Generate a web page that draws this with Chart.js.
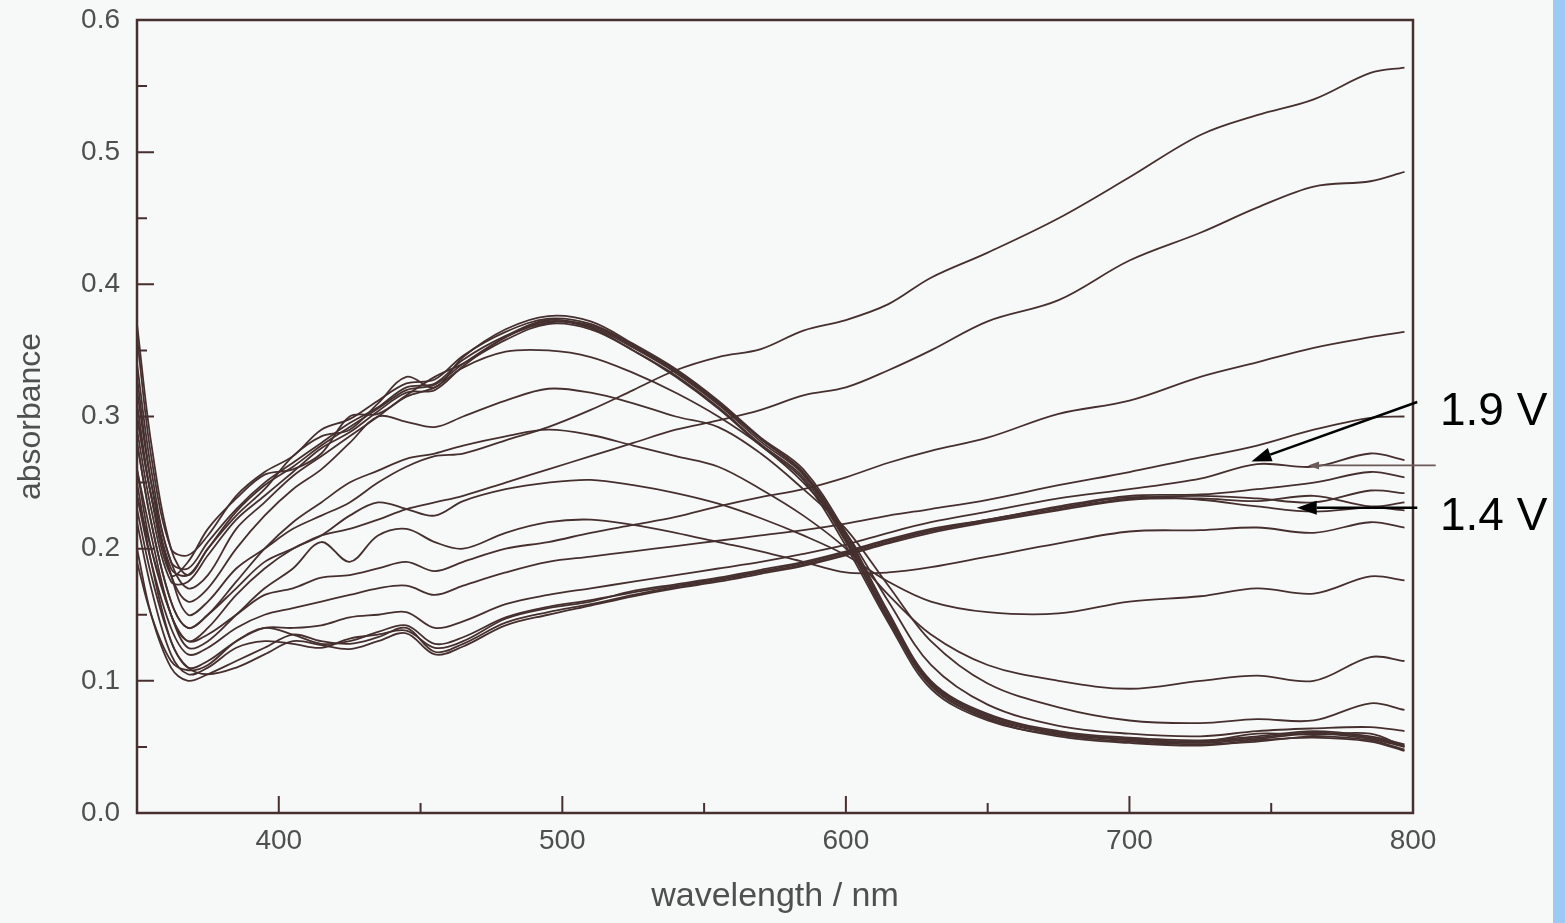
<!DOCTYPE html>
<html>
<head>
<meta charset="utf-8">
<script src="https://cdn.jsdelivr.net/npm/chart.js@4.4.1/dist/chart.umd.min.js"></script>
<style>
  html, body { margin: 0; padding: 0; background: #f7f9f8; overflow: hidden; }
  #wrap  { position: absolute; left: 0; top: 0; width: 1553px; height: 923px; }
  #strip { position: absolute; left: 1553px; top: 0; width: 12px; height: 923px; background: #9dcaf5; }
</style>
</head>
<body>
<div id="wrap"><canvas id="chart" width="1553" height="923"></canvas></div>
<div id="strip"></div>
<script>
// ------------------------------------------------------------
// absorbance spectra vs wavelength
// ------------------------------------------------------------

const WAVELENGTH = [350, 355, 362, 368, 375, 385, 395, 405, 415, 425, 435, 445, 455, 465, 480, 495, 510,
                    525, 540, 555, 570, 585, 600, 615, 630, 650, 675, 700, 725, 745, 765, 785, 797];

// peak bundle (max ~500 nm)
const P1 = [0.34,0.26,0.19,0.185,0.205,0.23,0.25,0.265,0.28,0.295,0.307,0.322,0.325,0.343,0.361,0.373,0.368,0.352,0.333,0.309,0.281,0.256,0.207,0.148,0.097,0.072,0.06,0.055,0.053,0.056,0.06,0.056,0.05];
const P2 = [0.37,0.28,0.2,0.18,0.2,0.225,0.245,0.27,0.285,0.29,0.31,0.33,0.322,0.345,0.366,0.376,0.372,0.355,0.336,0.312,0.284,0.26,0.212,0.152,0.1,0.075,0.062,0.057,0.055,0.058,0.062,0.058,0.052];
const P3 = [0.31,0.24,0.18,0.19,0.215,0.238,0.256,0.26,0.272,0.3,0.302,0.316,0.33,0.34,0.358,0.37,0.366,0.35,0.33,0.306,0.278,0.252,0.202,0.144,0.094,0.07,0.059,0.054,0.052,0.054,0.058,0.055,0.048];
const P4 = [0.29,0.23,0.175,0.175,0.195,0.222,0.24,0.258,0.276,0.288,0.304,0.318,0.32,0.338,0.36,0.371,0.369,0.353,0.334,0.31,0.283,0.258,0.21,0.15,0.099,0.074,0.061,0.056,0.054,0.06,0.059,0.06,0.05];
const P5 = [0.36,0.27,0.2,0.195,0.21,0.24,0.258,0.27,0.29,0.298,0.312,0.325,0.328,0.346,0.364,0.374,0.37,0.354,0.335,0.311,0.283,0.257,0.208,0.147,0.096,0.071,0.058,0.053,0.051,0.055,0.057,0.054,0.047];
const P6 = [0.33,0.25,0.185,0.18,0.2,0.228,0.248,0.262,0.278,0.292,0.306,0.32,0.324,0.34,0.36,0.372,0.367,0.35,0.331,0.307,0.279,0.254,0.205,0.146,0.098,0.073,0.06,0.056,0.054,0.057,0.061,0.057,0.051];

// intermediate spectra (peak falling)
const I1 = [0.32,0.25,0.19,0.17,0.18,0.215,0.235,0.255,0.27,0.285,0.3,0.315,0.322,0.337,0.349,0.35,0.345,0.333,0.318,0.3,0.278,0.25,0.212,0.16,0.112,0.082,0.066,0.06,0.058,0.062,0.064,0.065,0.062];
const I2 = [0.3,0.24,0.18,0.16,0.17,0.2,0.225,0.245,0.26,0.28,0.3,0.296,0.292,0.3,0.312,0.321,0.318,0.31,0.3,0.292,0.272,0.245,0.215,0.172,0.13,0.098,0.08,0.07,0.068,0.071,0.07,0.083,0.078];
const I3 = [0.28,0.22,0.16,0.14,0.15,0.175,0.2,0.22,0.235,0.25,0.259,0.268,0.272,0.278,0.285,0.29,0.286,0.278,0.27,0.262,0.245,0.225,0.2,0.165,0.135,0.112,0.1,0.094,0.1,0.104,0.1,0.118,0.115];
const I4 = [0.26,0.21,0.15,0.13,0.14,0.165,0.185,0.2,0.21,0.225,0.235,0.23,0.225,0.236,0.245,0.25,0.252,0.248,0.242,0.234,0.223,0.21,0.195,0.175,0.16,0.152,0.151,0.16,0.164,0.17,0.166,0.179,0.176];
const I5 = [0.24,0.2,0.15,0.125,0.13,0.15,0.17,0.185,0.205,0.19,0.21,0.215,0.205,0.2,0.212,0.22,0.222,0.218,0.212,0.205,0.198,0.19,0.182,0.182,0.186,0.194,0.204,0.213,0.214,0.216,0.212,0.22,0.216];

// low bundle (rising to ~0.24)
const Q1 = [0.22,0.17,0.12,0.105,0.11,0.125,0.13,0.128,0.125,0.132,0.135,0.138,0.125,0.13,0.147,0.155,0.16,0.168,0.173,0.178,0.184,0.19,0.198,0.207,0.215,0.222,0.232,0.24,0.241,0.245,0.25,0.258,0.254];
const Q2 = [0.2,0.15,0.11,0.1,0.105,0.115,0.125,0.135,0.13,0.128,0.133,0.14,0.122,0.128,0.144,0.152,0.158,0.165,0.171,0.176,0.182,0.188,0.196,0.205,0.213,0.221,0.23,0.238,0.24,0.238,0.235,0.244,0.242];
const Q3 = [0.25,0.19,0.13,0.11,0.105,0.11,0.12,0.13,0.127,0.124,0.13,0.136,0.12,0.126,0.142,0.15,0.157,0.164,0.17,0.175,0.181,0.187,0.195,0.204,0.212,0.22,0.229,0.237,0.238,0.236,0.24,0.232,0.235];
const Q4 = [0.19,0.15,0.115,0.108,0.112,0.13,0.14,0.135,0.128,0.13,0.137,0.142,0.128,0.133,0.148,0.156,0.161,0.167,0.172,0.177,0.183,0.189,0.197,0.206,0.214,0.222,0.231,0.239,0.237,0.232,0.228,0.231,0.229];

// rising spectra (long-wavelength growth)
const R1 = [0.23,0.18,0.13,0.11,0.115,0.13,0.14,0.14,0.142,0.148,0.15,0.152,0.14,0.145,0.158,0.165,0.17,0.175,0.18,0.185,0.19,0.196,0.203,0.212,0.22,0.228,0.238,0.245,0.253,0.264,0.262,0.272,0.267];
const R2 = [0.24,0.19,0.14,0.12,0.125,0.14,0.15,0.155,0.16,0.165,0.17,0.172,0.165,0.172,0.182,0.19,0.194,0.198,0.202,0.206,0.21,0.214,0.219,0.225,0.23,0.237,0.248,0.258,0.269,0.278,0.29,0.299,0.3];
const R3 = [0.26,0.2,0.15,0.13,0.135,0.15,0.165,0.17,0.178,0.18,0.185,0.19,0.183,0.19,0.2,0.205,0.212,0.218,0.224,0.232,0.239,0.245,0.254,0.265,0.274,0.284,0.302,0.312,0.33,0.341,0.352,0.36,0.364];
const R4 = [0.28,0.22,0.16,0.14,0.15,0.17,0.19,0.2,0.21,0.215,0.222,0.23,0.235,0.24,0.25,0.26,0.27,0.28,0.29,0.297,0.305,0.316,0.322,0.335,0.35,0.372,0.388,0.418,0.439,0.458,0.474,0.478,0.485];
const R5 = [0.3,0.24,0.18,0.15,0.16,0.185,0.2,0.215,0.225,0.235,0.25,0.262,0.27,0.272,0.282,0.292,0.305,0.32,0.335,0.345,0.351,0.365,0.373,0.385,0.405,0.424,0.45,0.481,0.513,0.528,0.54,0.56,0.564];

const SPECTRA = [P1, P2, P3, P4, P5, P6, I1, I2, I3, I4, I5, Q1, Q2, Q3, Q4, R1, R2, R3, R4, R5];

const X_TICKS       = [400, 500, 600, 700, 800];
const X_MINOR_TICKS = [450, 550, 650, 750];
const Y_TICKS       = [0, 0.1, 0.2, 0.3, 0.4, 0.5, 0.6];
const Y_MINOR_TICKS = [0.05, 0.15, 0.25, 0.35, 0.45, 0.55];

const INK   = '#45302f';
const LABEL = '#4f4f4f';
const FONT  = '"Liberation Sans", Arial, sans-serif';

// frame, inward ticks and the voltage arrows
const frameMarks = {
  id: 'frameMarks',
  afterDatasetsDraw(chart) {
    const { ctx, chartArea: a, scales: { x, y } } = chart;
    ctx.save();
    ctx.strokeStyle = INK;
    ctx.lineWidth = 2.5;
    ctx.strokeRect(a.left, a.top, a.right - a.left, a.bottom - a.top);

    ctx.lineWidth = 2;
    ctx.beginPath();
    X_TICKS.concat(X_MINOR_TICKS).forEach(v => {
      const px = x.getPixelForValue(v);
      const len = X_TICKS.includes(v) ? 17 : 10;
      ctx.moveTo(px, a.bottom); ctx.lineTo(px, a.bottom - len);
    });
    Y_TICKS.concat(Y_MINOR_TICKS).forEach(v => {
      const py = y.getPixelForValue(v);
      const len = Y_TICKS.includes(v) ? 17 : 10;
      ctx.moveTo(a.left, py); ctx.lineTo(a.left + len, py);
    });
    ctx.stroke();

    // small grey arrow belonging to the original figure
    const gy = y.getPixelForValue(0.263);
    drawArrow(ctx, x.getPixelForValue(808), gy, x.getPixelForValue(763), gy, '#6b5a58', 1.6, 11, 4);

    // voltage labels
    drawArrow(ctx, x.getPixelForValue(801.5), y.getPixelForValue(0.311), x.getPixelForValue(743), y.getPixelForValue(0.266), '#000', 2.5, 20, 7);
    drawArrow(ctx, x.getPixelForValue(801.5), y.getPixelForValue(0.231), x.getPixelForValue(759), y.getPixelForValue(0.231), '#000', 2.5, 20, 7);

    ctx.fillStyle = '#000';
    ctx.font = '46px ' + FONT;
    ctx.textAlign = 'left';
    ctx.textBaseline = 'middle';
    ctx.fillText('1.9 V', x.getPixelForValue(809.5), y.getPixelForValue(0.303));
    ctx.fillText('1.4 V', x.getPixelForValue(809.5), y.getPixelForValue(0.224));
    ctx.restore();
  }
};

function drawArrow(ctx, x0, y0, x1, y1, color, width, head, half) {
  const ang = Math.atan2(y1 - y0, x1 - x0);
  const bx = x1 - head * Math.cos(ang), by = y1 - head * Math.sin(ang);
  ctx.strokeStyle = color; ctx.fillStyle = color; ctx.lineWidth = width;
  ctx.beginPath(); ctx.moveTo(x0, y0); ctx.lineTo(bx, by); ctx.stroke();
  ctx.beginPath();
  ctx.moveTo(x1, y1);
  ctx.lineTo(bx + half * Math.sin(ang), by - half * Math.cos(ang));
  ctx.lineTo(bx - half * Math.sin(ang), by + half * Math.cos(ang));
  ctx.closePath(); ctx.fill();
}

new Chart(document.getElementById('chart'), {
  type: 'line',
  data: {
    datasets: SPECTRA.map((s, i) => ({
      label: 'spectrum ' + (i + 1),
      data: WAVELENGTH.map((w, k) => ({ x: w, y: s[k] })),
      borderColor: INK,
      borderWidth: 1.8,
      pointRadius: 0,
      tension: 0.35,
      fill: false,
    })),
  },
  options: {
    responsive: false,
    animation: false,
    devicePixelRatio: 1,
    layout: { padding: { top: 20, right: 140, left: 0, bottom: 0 } },
    plugins: { legend: { display: false }, tooltip: { enabled: false } },
    scales: {
      x: {
        type: 'linear', min: 350, max: 800,
        afterBuildTicks: s => { s.ticks = X_TICKS.map(v => ({ value: v })); },
        afterFit: s => { s.height = 110; s.paddingLeft = 0; s.paddingRight = 0; },
        grid: { display: false, drawTicks: false },
        border: { display: false },
        ticks: { color: LABEL, font: { family: FONT, size: 28 }, padding: 11, maxRotation: 0, autoSkip: false },
        title: { display: true, text: 'wavelength / nm', color: LABEL, font: { family: FONT, size: 34 }, padding: { top: 0, bottom: 6 } },
      },
      y: {
        type: 'linear', min: 0, max: 0.6,
        afterBuildTicks: s => { s.ticks = Y_TICKS.map(v => ({ value: v })); },
        afterFit: s => { s.width = 137; s.paddingTop = 0; s.paddingBottom = 0; },
        grid: { display: false, drawTicks: false },
        border: { display: false },
        ticks: { color: LABEL, font: { family: FONT, size: 28 }, padding: 17, callback: v => v.toFixed(1) },
        title: { display: true, text: 'absorbance', color: LABEL, font: { family: FONT, size: 32 }, padding: { top: 12, bottom: 0 } },
      },
    },
  },
  plugins: [frameMarks],
});
</script>
</body>
</html>
